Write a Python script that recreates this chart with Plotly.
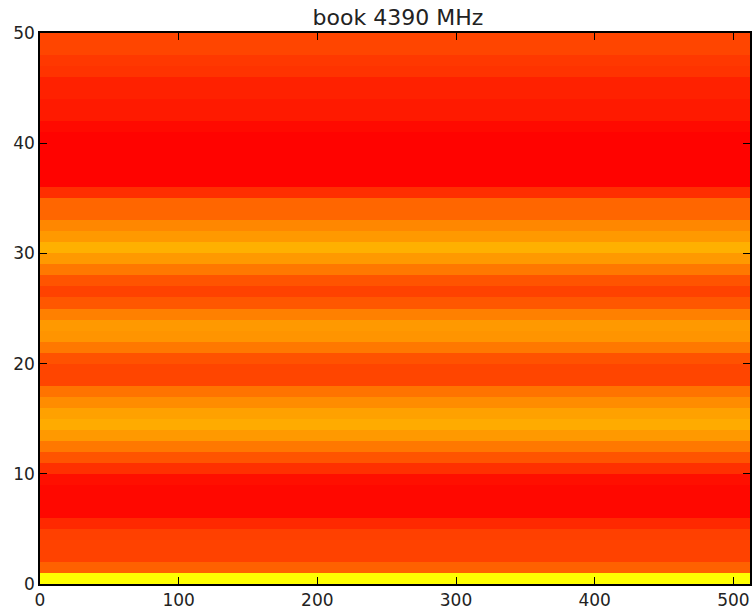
import plotly.graph_objects as go

# Row values (bottom row first), one band per unit of height 0..50
row_values = [
    1.00, 0.38, 0.26, 0.26, 0.25, 0.16, 0.03, 0.03, 0.03, 0.06,   # rows 0-9
    0.19, 0.33, 0.47, 0.60, 0.67, 0.63, 0.55, 0.45, 0.27, 0.27,   # rows 10-19
    0.32, 0.47, 0.58, 0.60, 0.50, 0.34, 0.26, 0.33, 0.47, 0.60,   # rows 20-29
    0.69, 0.60, 0.53, 0.40, 0.40, 0.18, 0.01, 0.01, 0.01, 0.01,   # rows 30-39
    0.01, 0.04, 0.10, 0.10, 0.13, 0.13, 0.20, 0.22, 0.27, 0.27,   # rows 40-49
]
x_edges = [0, 512]
y_edges = list(range(len(row_values) + 1))
x_ticks = [0, 100, 200, 300, 400, 500]
y_ticks = [0, 10, 20, 30, 40, 50]

z = [[v] for v in row_values]

fig = go.Figure(
    go.Heatmap(
        z=z,
        x=x_edges,
        y=y_edges,
        colorscale=[[0, "#ff0000"], [1, "#ffff00"]],
        zmin=0,
        zmax=1,
        showscale=False,
        hoverinfo="skip",
    )
)

axis_common = dict(
    showline=True,
    linecolor="black",
    linewidth=1.5,
    mirror="ticks",
    ticks="inside",
    ticklen=7,
    tickwidth=1,
    tickcolor="black",
    showgrid=False,
    zeroline=False,
    tickfont=dict(family="DejaVu Sans", size=17, color="#222222"),
)

fig.update_layout(
    width=755,
    height=613,
    margin=dict(l=40, r=3, t=33, b=26),
    paper_bgcolor="white",
    plot_bgcolor="white",
    title=dict(
        text="book 4390 MHz",
        x=0.527,
        xanchor="center",
        y=0.971,
        yanchor="middle",
        font=dict(family="DejaVu Sans", size=22, color="#222222"),
    ),
    xaxis=dict(range=[0, 512], tickvals=x_ticks, **axis_common),
    yaxis=dict(range=[0, 50], tickvals=y_ticks, **axis_common),
)

fig.write_html("out.html")
